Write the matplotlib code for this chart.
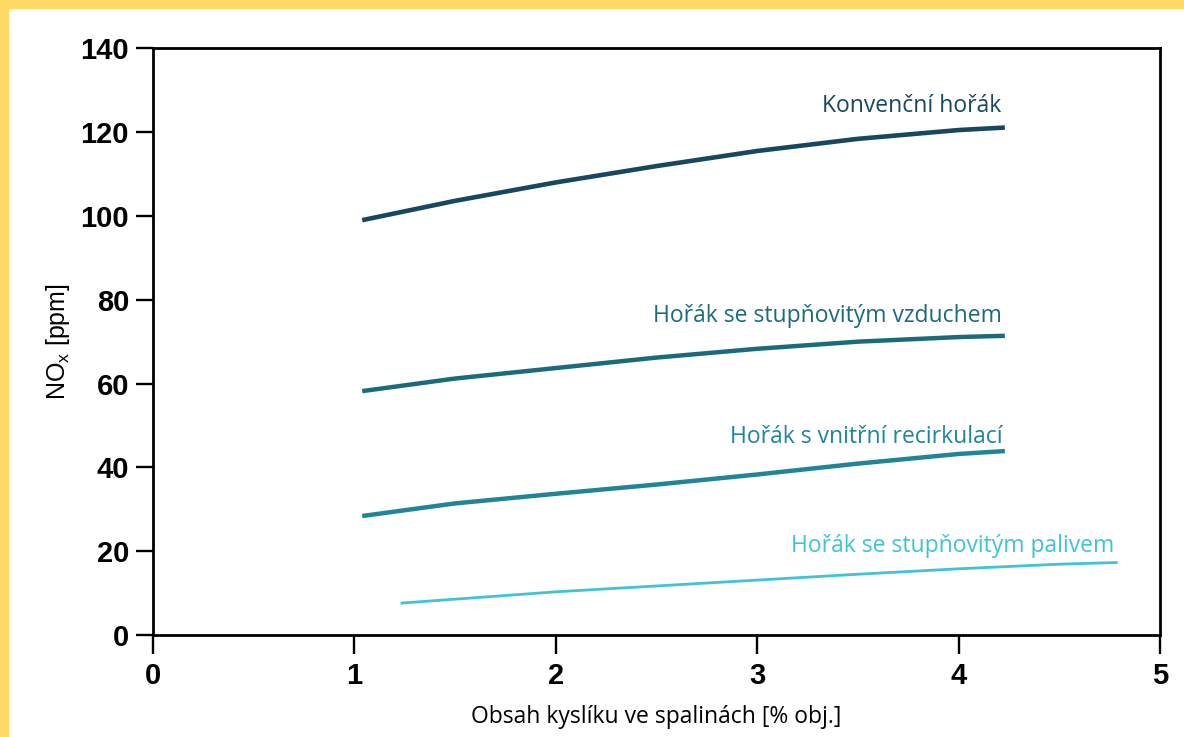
import matplotlib
matplotlib.use('Agg')
import matplotlib.pyplot as plt
from matplotlib.patches import Rectangle

# obsah kysliku [% obj.] a NOx [ppm] pro jednotlive horaky
x_konv = [1.04, 1.5, 2.0, 2.5, 3.0, 3.5, 4.0, 4.23]
y_konv = [99.0, 103.6, 108.0, 111.9, 115.5, 118.4, 120.5, 121.1]

x_vzduch = [1.04, 1.5, 2.0, 2.5, 3.0, 3.5, 4.0, 4.23]
y_vzduch = [58.2, 61.2, 63.7, 66.2, 68.3, 70.0, 71.1, 71.4]

x_recirk = [1.04, 1.5, 2.0, 2.5, 3.0, 3.5, 4.0, 4.23]
y_recirk = [28.4, 31.4, 33.7, 35.9, 38.3, 40.9, 43.2, 43.9]

x_palivo = [1.23, 2.0, 2.5, 3.0, 3.5, 4.0, 4.5, 4.79]
y_palivo = [7.6, 10.3, 11.7, 13.1, 14.5, 15.8, 16.9, 17.3]

nazvy = ['Konvenční hořák', 'Hořák se stupňovitým vzduchem',
         'Hořák s vnitřní recirkulací', 'Hořák se stupňovitým palivem']
barvy = ['#17485f', '#1b6b7d', '#1f8597', '#3fc3d5']

x_ticks = [0, 1, 2, 3, 4, 5]
y_ticks = [0, 20, 40, 60, 80, 100, 120, 140]

text_font = ['Open Sans', 'DejaVu Sans']

fig = plt.figure(figsize=(11.84, 7.37), dpi=100)
ax = fig.add_axes([0.129, 0.1384, 0.8507, 0.796])

# zluty ramecek (nahore a vlevo)
fig.patches.append(Rectangle((0, 1 - 7.5 / 737), 1, 7.5 / 737, transform=fig.transFigure,
                             color='#ffd966', zorder=0))
fig.patches.append(Rectangle((0, 0), 8.3 / 1184, 1, transform=fig.transFigure,
                             color='#ffd966', zorder=0))

serie = [(x_konv, y_konv, 3.3), (x_vzduch, y_vzduch, 3.2),
         (x_recirk, y_recirk, 3.2), (x_palivo, y_palivo, 2.0)]
for (xs, ys, lw), barva in zip(serie, barvy):
    ax.plot(xs, ys, color=barva, lw=lw, solid_capstyle='butt')

# popisky krivek
popisky = [(4.21, 124.8), (4.215, 74.8), (4.22, 45.8), (4.775, 19.9)]
for (tx, ty), nazev, barva in zip(popisky, nazvy, barvy):
    ax.text(tx, ty, nazev, color=barva, ha='right', va='baseline',
            fontsize=16.5, family=text_font)

ax.set_xlim(0, 5)
ax.set_ylim(0, 140)
ax.set_xticks(x_ticks)
ax.set_yticks(y_ticks)

for s in ax.spines.values():
    s.set_linewidth(2.0)
ax.tick_params(axis='y', length=12, width=1.7, pad=5)
ax.tick_params(axis='x', length=13.5, width=1.7, pad=6)
for lab in ax.get_xticklabels() + ax.get_yticklabels():
    lab.set_fontfamily('Liberation Sans')
    lab.set_fontweight('bold')
    lab.set_fontsize(21)

ax.set_xlabel('Obsah kyslíku ve spalinách [% obj.]', fontsize=16.5, family=text_font,
              labelpad=11)
ax.set_ylabel('NO$_\\mathregular{x}$ [ppm]', fontsize=18, family='Liberation Sans',
              labelpad=6)

fig.savefig('out.png', dpi=100)
